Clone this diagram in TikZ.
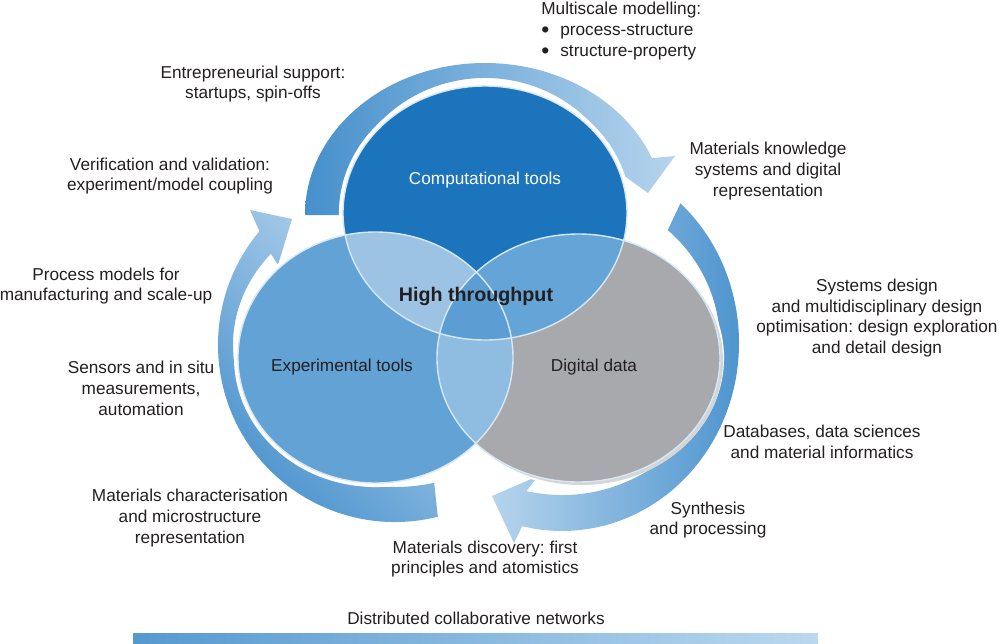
\documentclass[tikz,border=0pt]{standalone}
\usepackage{fontspec}
\setmainfont{Liberation Sans}
\usetikzlibrary{positioning}
\frenchspacing

\definecolor{compblue}{RGB}{28,117,188}
\definecolor{expblue}{RGB}{99,162,212}
\definecolor{datagrey}{RGB}{167,169,172}
\definecolor{shadowgrey}{RGB}{212,213,215}
\definecolor{lensCE}{RGB}{156,195,228}
\definecolor{lensCD}{RGB}{100,164,214}
\definecolor{lensED}{RGB}{143,189,226}
\definecolor{core}{RGB}{92,158,211}
\definecolor{rimline}{RGB}{214,231,245}
\definecolor{arrowdark}{RGB}{70,144,204}
\definecolor{arrowlight}{RGB}{182,212,237}
\definecolor{barstart}{RGB}{86,153,207}
\definecolor{barend}{RGB}{187,216,239}
\definecolor{inkgrey}{RGB}{35,31,32}

\begin{document}
\begin{tikzpicture}[x=0.02cm, y=-0.02cm, font=\fontsize{9.8pt}{11.9pt}\selectfont, text=inkgrey]
    \tikzset{
      txt/.style={align=center, inner sep=0pt},
      compr/.style={x radius=142, y radius=127},
      expr/.style={x radius=137.5, y radius=125.5},
      datr/.style={x radius=141.5, y radius=124},
      halo/.style={fill=white, draw=white, line width=4.6pt},
      rim/.style={draw=rimline, line width=0.8pt},
      topband/.style={left color=arrowdark, right color=arrowlight},
      rightband/.style={left color=arrowlight, right color=arrowdark},
      leftband/.style={top color=arrowlight, bottom color=arrowdark, shading angle=-45}
    }
    \useasboundingbox (0,0) rectangle (1000,643);
    \coordinate (comp) at (485,213);
    \coordinate (exp) at (375.5,357.5);
    \coordinate (dat) at (578.5,358);

    % cycle arrows
    \begin{scope}[shift={(485,215)}]
      \shade[topband] (180:180 and 152) arc[start angle=180, end angle=338, x radius=180, y radius=152]
        -- (190,-59) -- (163,-22) -- (120,-53)
        -- (338:143 and 137) arc[start angle=338, end angle=180, x radius=143, y radius=137] -- cycle;
    \end{scope}
    \begin{scope}[shift={(562,343)}]
      \shade[rightband] (-48:177 and 188) arc[start angle=-48, end angle=103, x radius=177, y radius=188]
        -- (-48,200) -- (-70,153) -- (-24,133)
        -- (103:158 and 152) arc[start angle=103, end angle=-48, x radius=158, y radius=152] -- cycle;
    \end{scope}
    \begin{scope}[shift={(395,345)}]
      \shade[leftband] (76:177 and 177) arc[start angle=76, end angle=220, x radius=177, y radius=177]
        -- (-145,-135) -- (-103,-126) -- (-117,-80)
        -- (220:162 and 142) arc[start angle=220, end angle=76, x radius=162, y radius=142] -- cycle;
    \end{scope}

    % venn
    \path[halo] (exp) ellipse[expr] (dat) ellipse[datr] (comp) ellipse[compr];
    \fill[shadowgrey] ([shift={(3,3)}]dat) ellipse[datr];
    \fill[expblue] (exp) ellipse[expr];
    \fill[datagrey] (dat) ellipse[datr];
    \fill[compblue] (comp) ellipse[compr];
    \begin{scope}
      \clip (comp) ellipse[compr];
      \fill[lensCE] (exp) ellipse[expr];
      \fill[lensCD] (dat) ellipse[datr];
    \end{scope}
    \begin{scope}
      \clip (exp) ellipse[expr];
      \fill[lensED] (dat) ellipse[datr];
      \clip (comp) ellipse[compr];
      \fill[core] (dat) ellipse[datr];
    \end{scope}
    \path[rim] (exp) ellipse[expr] (dat) ellipse[datr] (comp) ellipse[compr];

    \node[txt, text=white] (comptools) at (485,180) {Computational tools};
    \node[txt, font=\fontsize{11.2pt}{13pt}\selectfont\bfseries] (high) at (476,296) {High throughput};
    \node[txt] (exptools) at (342,367) {Experimental tools};
    \node[txt] (digital) at (594,367) {Digital data};

    \node[txt, align=left, anchor=west] (multiscale) at (541,31)
      {Multiscale modelling:\\\makebox[0.38cm][l]{\raisebox{-1.3pt}{\fontsize{13pt}{0pt}\selectfont\textbullet}}process-structure\\\makebox[0.38cm][l]{\raisebox{-1.3pt}{\fontsize{13pt}{0pt}\selectfont\textbullet}}structure-property};
    \node[txt] (entre) at (253,84) {Entrepreneurial support:\\startups, spin-offs};
    \node[txt] (verif) at (170,176) {Verification and validation:\\experiment/model coupling};
    \node[txt] (process) at (106,286) {Process models for\\manufacturing and scale-up};
    \node[txt] (sensors) at (141,388) {Sensors and in situ\\measurements,\\automation};
    \node[txt] (charact) at (190,518) {Materials characterisation\\and microstructure\\representation};
    \node[txt] (knowledge) at (768,171) {Materials knowledge\\systems and digital\\representation};
    \node[txt] (design) at (877,318) {Systems design\\and multidisciplinary design\\optimisation: design exploration\\and detail design};
    \node[txt] (databases) at (822,442) {Databases, data sciences\\and material informatics};
    \node[txt] (synthesis) at (708,520) {Synthesis\\and processing};
    \node[txt] (discovery) at (485,559) {Materials discovery: first\\principles and atomistics};

    \shade[left color=barstart, right color=barend] (133,633) rectangle (818,643);
    \node[txt] (networks) at (476,618) {Distributed collaborative networks};
  \end{tikzpicture}
\end{document}
